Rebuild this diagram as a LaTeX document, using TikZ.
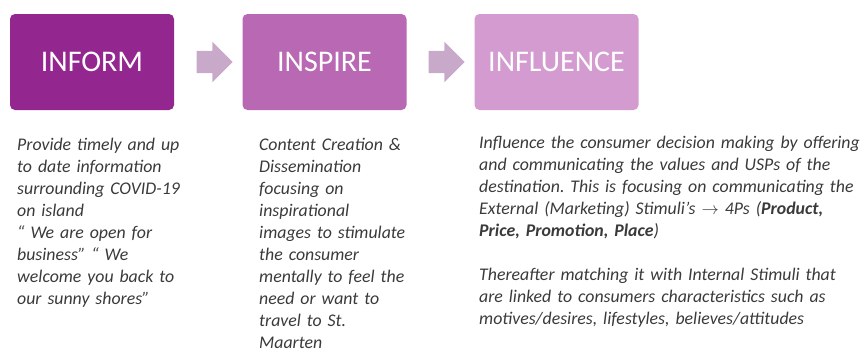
\documentclass[tikz,border=0pt]{standalone}
\usepackage{fontspec}
\setmainfont{Carlito}
\usetikzlibrary{positioning,shapes.arrows}
\definecolor{informpurple}{HTML}{93278F}
\definecolor{inspirepurple}{HTML}{B968B4}
\definecolor{influencepink}{HTML}{D39BCF}
\definecolor{arrowpink}{HTML}{C9A9C9}
\definecolor{textgray}{HTML}{3A3A3A}
\frenchspacing
\begin{document}
\begin{tikzpicture}[x=1pt,y=-1pt]
			\tikzstyle{every node}+=[inner sep=0pt]
			\tikzstyle{stagebox}=[rounded corners=5pt, minimum width=164pt, minimum height=96pt, text=white, font=\fontsize{30}{32}\selectfont]
			\tikzstyle{stagearrow}=[single arrow, fill=arrowpink, minimum width=40pt, minimum height=36pt, single arrow head extend=9pt]
			\tikzstyle{stagetext}=[anchor=base west, align=left, text=textgray, font=\fontsize{17.8}{22}\selectfont\itshape]
			\useasboundingbox (0,0) rectangle (867,354);
			\node [stagebox, fill=informpurple] (inform) at (92,62) {INFORM};
			\node [stagebox, fill=inspirepurple] (inspire) at (324.5,62) {INSPIRE};
			\node [stagebox, fill=influencepink] (influence) at (556.5,62) {INFLUENCE};
			\node [stagearrow] (arrowA) at (209,62) {\rule{0pt}{22pt}};
			\node [stagearrow] (arrowB) at (441,62) {\rule{0pt}{22pt}};
			\node [stagetext, text width=230pt] (informtext) at (17,150) {Provide timely and up\\to date information\\surrounding COVID-19\\on island\\\textquotedblleft{} We are open for\\business\textquotedblright{} \textquotedblleft{} We\\welcome you back to\\our sunny shores\textquotedblright};
			\node [stagetext, text width=210pt] (inspiretext) at (259,150) {Content Creation \&\\Dissemination\\focusing on\\inspirational\\images to stimulate\\the consumer\\mentally to feel the\\need or want to\\travel to St.\\Maarten};
			\node [stagetext, text width=388pt] (influencetext) at (479,148) {Influence the consumer decision making by offering\\and communicating the values and USPs of the\\destination. This is focusing on communicating the\\External (Marketing) Stimuli\textquoteright s $\rightarrow$ 4Ps (\textbf{Product,}\\\textbf{Price, Promotion, Place})\\[22pt]Thereafter matching it with Internal Stimuli that\\are linked to consumers characteristics such as\\motives/desires, lifestyles, believes/attitudes};
			\end{tikzpicture}
\end{document}
